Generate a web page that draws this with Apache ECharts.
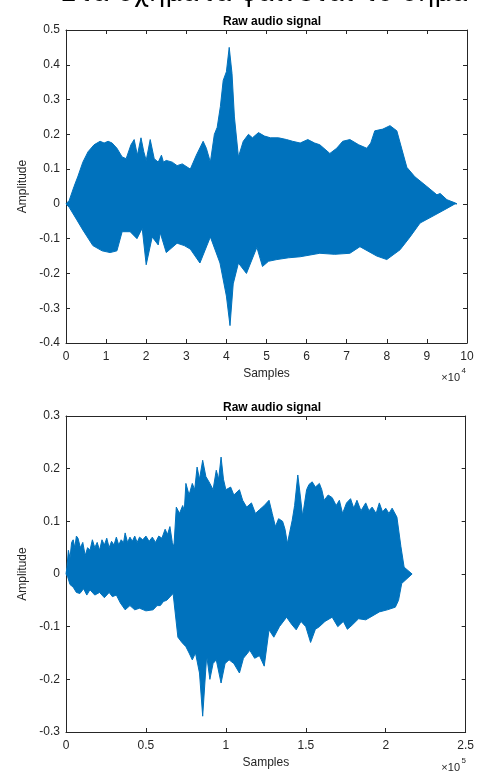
<!DOCTYPE html>
<html>
<head>
<meta charset="utf-8">
<script src="https://cdn.jsdelivr.net/npm/echarts@6/dist/echarts.min.js"></script>
<style>
  html, body { margin: 0; padding: 0; background: #fff; }
  #chart { width: 477px; height: 773px; }
</style>
</head>
<body>
<div id="chart"></div>
<script>
// envelope of the first recording, [sample, amplitude]
const topUpper = [
  [0, 0], [800, 0.01], [2000, 0.05], [3000, 0.08], [4200, 0.12], [5500, 0.15], [7000, 0.17],
  [8500, 0.18], [9500, 0.175], [10500, 0.18], [11500, 0.175], [12700, 0.16], [14000, 0.135],
  [15000, 0.13], [16200, 0.17], [17000, 0.185], [17800, 0.14], [18700, 0.19], [19400, 0.15],
  [20000, 0.125], [21000, 0.185], [22000, 0.13], [23000, 0.12], [23800, 0.14], [24300, 0.12],
  [25000, 0.125], [26500, 0.12], [27700, 0.11], [29000, 0.115], [31000, 0.1], [32500, 0.14],
  [34200, 0.18], [35000, 0.16], [36000, 0.12], [37000, 0.2], [37700, 0.22], [38500, 0.28],
  [39200, 0.355], [40000, 0.38], [40700, 0.45], [41400, 0.375], [42000, 0.25], [43000, 0.135],
  [44200, 0.18], [45500, 0.2], [46500, 0.19], [48000, 0.205], [49500, 0.195], [51000, 0.19],
  [53000, 0.19], [55000, 0.185], [56500, 0.18], [58400, 0.175], [60300, 0.185], [62000, 0.175],
  [63300, 0.17], [65800, 0.145], [67500, 0.16], [69000, 0.18], [70800, 0.185], [73000, 0.17],
  [75000, 0.16], [76000, 0.175], [77000, 0.21], [79000, 0.215], [80800, 0.225], [82500, 0.21],
  [85000, 0.105], [87000, 0.078], [90000, 0.05], [92500, 0.026], [93300, 0.03], [95000, 0.012],
  [97000, 0.003], [97500, 0]
];
const topLower = [
  [0, 0], [800, -0.01], [2700, -0.046], [4200, -0.075], [6700, -0.12], [9000, -0.135],
  [11000, -0.14], [12700, -0.135], [14000, -0.08], [16000, -0.08], [17700, -0.1], [19000, -0.07],
  [20000, -0.175], [21500, -0.095], [23000, -0.118], [23500, -0.083], [25000, -0.14],
  [27700, -0.113], [29500, -0.12], [31000, -0.13], [33400, -0.17], [36000, -0.095],
  [38400, -0.17], [40000, -0.265], [40900, -0.35], [41700, -0.23], [43000, -0.17], [45000, -0.2],
  [47600, -0.125], [49000, -0.18], [50500, -0.165], [52600, -0.16], [55500, -0.155],
  [58400, -0.152], [63300, -0.142], [67000, -0.145], [70800, -0.142], [73300, -0.123],
  [77500, -0.15], [80000, -0.16], [83300, -0.132], [85800, -0.095], [88300, -0.055],
  [92000, -0.032], [95000, -0.013], [97000, 0], [97500, 0]
];
// envelope of the second recording, [sample, amplitude]
const bottomUpper = [
  [0, 0], [600, 0.013], [1500, 0.045], [2500, 0.03], [3500, 0.06], [4500, 0.065], [5500, 0.05],
  [6500, 0.072], [7500, 0.068], [9000, 0.05], [10500, 0.06], [12000, 0.035], [13500, 0.05],
  [15000, 0.045], [16500, 0.065], [18000, 0.05], [19500, 0.06], [21000, 0.045], [22500, 0.065],
  [24000, 0.055], [25500, 0.068], [27000, 0.05], [28500, 0.062], [30000, 0.055], [31500, 0.07],
  [33000, 0.055], [34500, 0.065], [36000, 0.06], [37000, 0.078], [38500, 0.06], [40000, 0.07],
  [41500, 0.062], [43000, 0.072], [44500, 0.06], [46000, 0.07], [48000, 0.065], [50000, 0.072],
  [52000, 0.062], [54000, 0.07], [56000, 0.06], [58000, 0.072], [60000, 0.068], [62000, 0.085],
  [63500, 0.075], [65000, 0.09], [66500, 0.06], [67500, 0.052], [69000, 0.127], [71000, 0.115],
  [73000, 0.13], [74000, 0.12], [75000, 0.172], [77000, 0.15], [79000, 0.172], [80500, 0.16],
  [82000, 0.203], [83500, 0.18], [85500, 0.216], [87500, 0.185], [90000, 0.172], [92000, 0.16],
  [94000, 0.197], [95500, 0.18], [97000, 0.222], [98500, 0.18], [100000, 0.16], [103000, 0.165],
  [105000, 0.15], [108500, 0.16], [110500, 0.14], [113000, 0.127], [116000, 0.135],
  [118500, 0.115], [121000, 0.122], [124000, 0.13], [127000, 0.14], [129000, 0.115],
  [131000, 0.09], [133000, 0.105], [135500, 0.1], [137000, 0.085], [138500, 0.058],
  [140000, 0.08], [141500, 0.102], [143000, 0.13], [145000, 0.188], [146500, 0.15],
  [148000, 0.11], [150500, 0.16], [152000, 0.17], [154000, 0.175], [156000, 0.165],
  [158500, 0.172], [160000, 0.16], [161500, 0.14], [164000, 0.15], [166500, 0.145],
  [169000, 0.13], [171000, 0.14], [173000, 0.115], [175500, 0.135], [178000, 0.143],
  [180000, 0.125], [182000, 0.14], [184500, 0.12], [187500, 0.135], [189500, 0.12],
  [191500, 0.127], [194000, 0.115], [196000, 0.135], [198000, 0.118], [200000, 0.125],
  [202000, 0.115], [204000, 0.125], [207000, 0.108], [209500, 0.052], [211500, 0.013],
  [216500, 0]
];
const bottomLower = [
  [0, 0], [1000, -0.005], [2500, -0.02], [4500, -0.025], [6500, -0.035], [8700, -0.037],
  [11000, -0.028], [13000, -0.04], [15000, -0.03], [18000, -0.04], [21000, -0.035],
  [24000, -0.045], [27000, -0.035], [29000, -0.043], [31500, -0.04], [34000, -0.055],
  [37000, -0.068], [40000, -0.06], [43000, -0.068], [46000, -0.065], [50000, -0.07],
  [54500, -0.068], [57000, -0.06], [59000, -0.06], [61000, -0.052], [63000, -0.05],
  [67000, -0.037], [70000, -0.12], [72500, -0.13], [75000, -0.138], [77000, -0.15],
  [79000, -0.163], [81000, -0.15], [83500, -0.188], [85500, -0.27], [88000, -0.155],
  [90000, -0.2], [92000, -0.17], [94000, -0.163], [97000, -0.207], [99500, -0.17],
  [102000, -0.163], [105000, -0.17], [108500, -0.188], [111000, -0.16], [115000, -0.145],
  [118000, -0.16], [121000, -0.155], [124000, -0.175], [127000, -0.106], [130000, -0.12],
  [133500, -0.1], [138000, -0.082], [141000, -0.095], [144000, -0.106], [147000, -0.09],
  [150000, -0.1], [153000, -0.13], [156000, -0.105], [158500, -0.1], [162000, -0.09],
  [166500, -0.082], [170000, -0.1], [173500, -0.09], [176000, -0.105], [179000, -0.097],
  [183000, -0.085], [187500, -0.087], [191500, -0.08], [196000, -0.072], [201000, -0.068],
  [206000, -0.063], [208000, -0.05], [210000, -0.018], [216500, 0]
];

const topXTicks = ['0', '1', '2', '3', '4', '5', '6', '7', '8', '9', '10'];
const topYTicks = ['-0.4', '-0.3', '-0.2', '-0.1', '0', '0.1', '0.2', '0.3', '0.4', '0.5'];
const bottomXTicks = ['0', '0.5', '1', '1.5', '2', '2.5'];
const bottomYTicks = ['-0.3', '-0.2', '-0.1', '0', '0.1', '0.2', '0.3'];

const blue = '#0072BD';
const ink = '#262626';
const font = 'Liberation Sans, Arial, sans-serif';

function tickFmt(labels, min, step) {
  return v => labels[Math.round((v - min) / step)] || '';
}

function xAxes(grid, max, step, labels) {
  return [
    {
      type: 'value', gridIndex: grid, position: 'bottom', min: 0, max: max, interval: step,
      name: 'Samples', nameLocation: 'middle', nameGap: 25,
      nameTextStyle: { color: ink, fontSize: 12, fontFamily: font },
      axisLine: { onZero: false, lineStyle: { color: ink } },
      axisTick: { inside: true, length: 4, lineStyle: { color: ink } },
      axisLabel: { color: ink, fontSize: 12, fontFamily: font, margin: 8, formatter: tickFmt(labels, 0, step) },
      splitLine: { show: false }
    },
    {
      type: 'value', gridIndex: grid, position: 'top', min: 0, max: max, interval: step,
      axisLine: { onZero: false, lineStyle: { color: ink } },
      axisTick: { inside: true, length: 4, lineStyle: { color: ink } },
      axisLabel: { show: false }, splitLine: { show: false }
    }
  ];
}

function yAxes(grid, min, max, labels) {
  return [
    {
      type: 'value', gridIndex: grid, position: 'left', min: min, max: max, interval: 0.1,
      name: 'Amplitude', nameLocation: 'middle', nameGap: 28,
      nameTextStyle: { color: ink, fontSize: 12, fontFamily: font },
      axisLine: { show: true, onZero: false, lineStyle: { color: ink } },
      axisTick: { show: true, inside: true, length: 4, lineStyle: { color: ink } },
      axisLabel: { color: ink, fontSize: 12, fontFamily: font, margin: 6, formatter: tickFmt(labels, min, 0.1) },
      splitLine: { show: false }
    },
    {
      type: 'value', gridIndex: grid, position: 'right', min: min, max: max, interval: 0.1,
      axisLine: { show: true, onZero: false, lineStyle: { color: ink } },
      axisTick: { show: true, inside: true, length: 4, lineStyle: { color: ink } },
      axisLabel: { show: false }, splitLine: { show: false }
    }
  ];
}

function wave(data, xi, yi) {
  return {
    type: 'line', xAxisIndex: xi, yAxisIndex: yi, data: data,
    showSymbol: false, silent: true, animation: false,
    lineStyle: { color: blue, width: 1 },
    areaStyle: { color: blue, opacity: 1, origin: 0 }
  };
}

const chart = echarts.init(document.getElementById('chart'));
chart.setOption({
  backgroundColor: '#fff',
  animation: false,
  title: [
    { text: 'Raw audio signal', left: 267, top: 11, textAlign: 'center',
      textStyle: { fontSize: 12, fontWeight: 'bold', color: '#000', fontFamily: font } },
    { text: 'Raw audio signal', left: 267, top: 397, textAlign: 'center',
      textStyle: { fontSize: 12, fontWeight: 'bold', color: '#000', fontFamily: font } }
  ],
  grid: [
    { left: 66, top: 30, width: 401, height: 313 },
    { left: 66, top: 416, width: 401, height: 316 }
  ],
  xAxis: [].concat(
    xAxes(0, 100000, 10000, topXTicks),
    xAxes(1, 250000, 50000, bottomXTicks)
  ),
  yAxis: [].concat(
    yAxes(0, -0.4, 0.5, topYTicks),
    yAxes(1, -0.3, 0.3, bottomYTicks)
  ),
  series: [
    wave(topUpper, 0, 0),
    wave(topLower, 0, 0),
    wave(bottomUpper, 2, 2),
    wave(bottomLower, 2, 2)
  ],
  graphic: [
    { type: 'text', left: 60, top: -19,
      style: { text: 'Στα σχήματα φαίνεται το σήμα', fontSize: 26, fontFamily: 'DejaVu Sans, sans-serif', fill: '#000' } },
    { type: 'text', right: 17, top: 372,
      style: { text: '×10', fontSize: 11, fontFamily: font, fill: ink } },
    { type: 'text', right: 11, top: 367,
      style: { text: '4', fontSize: 8, fontFamily: font, fill: ink } },
    { type: 'text', right: 17, top: 762,
      style: { text: '×10', fontSize: 11, fontFamily: font, fill: ink } },
    { type: 'text', right: 11, top: 757,
      style: { text: '5', fontSize: 8, fontFamily: font, fill: ink } }
  ]
});
</script>
</body>
</html>
